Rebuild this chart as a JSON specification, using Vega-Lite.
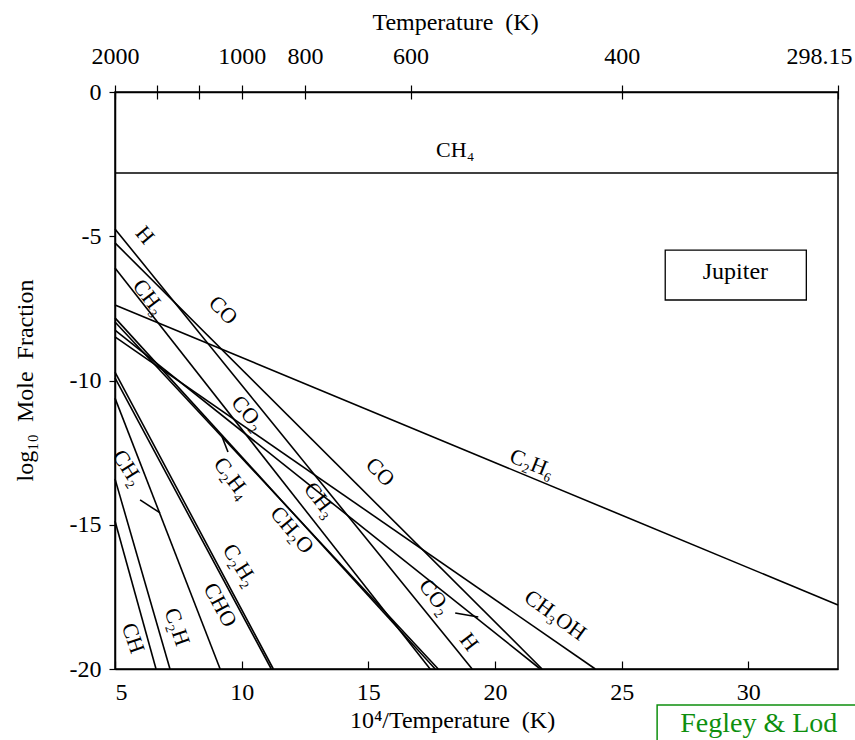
{
  "$schema": "https://vega.github.io/schema/vega-lite/v6.json",
  "width": 723,
  "height": 577,
  "autosize": {"type": "none"},
  "padding": {"left": 115, "top": 92, "right": 17, "bottom": 71},
  "background": "white",
  "config": {
    "view": {"stroke": "black", "strokeWidth": 1.5},
    "font": "Liberation Serif",
    "axis": {
      "grid": false,
      "domainColor": "black",
      "domainWidth": 1.5,
      "tickColor": "black",
      "tickWidth": 1.2,
      "labelColor": "black",
      "titleColor": "black",
      "labelFont": "Liberation Serif",
      "titleFont": "Liberation Serif",
      "labelFontSize": 24,
      "titleFontSize": 24,
      "titleFontWeight": "normal"
    },
    "text": {"font": "Liberation Serif", "fontSize": 22, "color": "black"}
  },
  "resolve": {"axis": {"x": "independent", "y": "independent"}},
  "layer": [
    {
      "data": {"values": [
        {"s": "CH4", "x": 5, "y": -2.81}, {"s": "CH4", "x": 33.5403, "y": -2.81},
        {"s": "H", "x": 5, "y": -4.75}, {"s": "H", "x": 19.10, "y": -20},
        {"s": "CO", "x": 5, "y": -5.23}, {"s": "CO", "x": 21.86, "y": -20},
        {"s": "CH3", "x": 5, "y": -6.10}, {"s": "CH3", "x": 17.44, "y": -20},
        {"s": "C2H6", "x": 5, "y": -7.38}, {"s": "C2H6", "x": 33.5403, "y": -17.78},
        {"s": "C2H4", "x": 5, "y": -7.83}, {"s": "C2H4", "x": 17.64, "y": -20},
        {"s": "CH2O", "x": 5, "y": -7.97}, {"s": "CH2O", "x": 17.76, "y": -20},
        {"s": "CO2", "x": 5, "y": -8.25}, {"s": "CO2", "x": 21.79, "y": -20},
        {"s": "CH3OH", "x": 5, "y": -8.49}, {"s": "CH3OH", "x": 23.96, "y": -20},
        {"s": "C2H2", "x": 5, "y": -9.71}, {"s": "C2H2", "x": 11.25, "y": -20},
        {"s": "CHO", "x": 5, "y": -9.91}, {"s": "CHO", "x": 11.17, "y": -20},
        {"s": "CH2", "x": 5, "y": -10.61}, {"s": "CH2", "x": 9.15, "y": -20},
        {"s": "C2H", "x": 5, "y": -13.41}, {"s": "C2H", "x": 7.17, "y": -20},
        {"s": "CH", "x": 5, "y": -14.87}, {"s": "CH", "x": 6.62, "y": -20},
        {"s": "L1", "x": 5.99, "y": -14.14}, {"s": "L1", "x": 6.78, "y": -14.59},
        {"s": "L2", "x": 9.23, "y": -11.96}, {"s": "L2", "x": 9.46, "y": -12.48},
        {"s": "L3", "x": 18.43, "y": -18.06}, {"s": "L3", "x": 19.34, "y": -18.20}
      ]},
      "mark": {"type": "line", "color": "black", "strokeWidth": 1.6},
      "encoding": {
        "x": {
          "field": "x", "type": "quantitative",
          "scale": {"domain": [5, 33.5403], "nice": false, "zero": false},
          "axis": {
            "orient": "bottom", "values": [5, 10, 15, 20, 25, 30],
            "tickSize": -8, "labelPadding": 19,
            "title": "10⁴/Temperature\u00a0\u00a0(K)",
            "titleX": 337, "titleY": 51, "titleBaseline": "middle"
          }
        },
        "y": {
          "field": "y", "type": "quantitative",
          "scale": {"domain": [-20, 0], "nice": false, "zero": false},
          "axis": {
            "orient": "left",
            "values": [0, -5, -10, -15, -20],
            "labelExpr": "datum.value == 0 ? '0' : '-' + abs(datum.value)",
            "tickSize": 6, "labelPadding": 8,
            "title": "log₁₀\u00a0\u00a0Mole\u00a0\u00a0Fraction",
            "titleX": -90, "titleY": 288, "titleBaseline": "middle"
          }
        },
        "detail": {"field": "s"}
      }
    },
    {
      "data": {"values": [{"x1": 26.72, "x2": 32.29, "y1": -5.48, "y2": -7.21}]},
      "mark": {"type": "rect", "fill": "white", "stroke": "black", "strokeWidth": 1.3},
      "encoding": {
        "x": {
          "field": "x1", "type": "quantitative",
          "axis": {
            "orient": "top",
            "values": [5, 6.6667, 8.3333, 10, 12.5, 16.6667, 25, 33.5403],
            "labelExpr": "datum.value > 33 ? '298.15' : (abs(datum.value - 6.6667) < 0.01 || abs(datum.value - 8.3333) < 0.01) ? '' : format(round(10000 / datum.value), 'd')",
            "tickSize": 7, "labelPadding": 17,
            "labelAlign": {"condition": {"test": "datum.value > 33", "value": "right"}, "value": "center"},
            "labelOffset": {"condition": {"test": "datum.value > 33", "value": 14}, "value": 0},
            "title": "Temperature\u00a0\u00a0(K)",
            "titleX": 340, "titleY": -70, "titleBaseline": "middle"
          }
        },
        "x2": {"field": "x2"},
        "y": {"field": "y1", "type": "quantitative", "axis": null},
        "y2": {"field": "y2"}
      }
    },
    {
      "data": {"values": [{"t": "Jupiter", "x": 29.49, "y": -6.24}]},
      "mark": {"type": "text", "fontSize": 24},
      "encoding": {
        "x": {
          "field": "x", "type": "quantitative",
          "axis": {
            "orient": "top",
            "values": [5, 6.6667, 8.3333, 10, 12.5, 16.6667, 25, 33.5403],
            "tickSize": -7, "labels": false, "domain": false, "title": null
          }
        },
        "y": {"field": "y", "type": "quantitative", "axis": null},
        "text": {"field": "t"}
      }
    },
    {
      "data": {"values": [{"t": "CH₄", "x": 18.43, "y": -2.01}]},
      "mark": {"type": "text", "angle": 0},
      "encoding": {
        "x": {"field": "x", "type": "quantitative", "axis": null},
        "y": {"field": "y", "type": "quantitative", "axis": null},
        "text": {"field": "t"}
      }
    },
    {
      "data": {"values": [{"t": "C₂H₆", "x": 21.47, "y": -12.88}]},
      "mark": {"type": "text", "angle": 22},
      "encoding": {
        "x": {"field": "x", "type": "quantitative", "axis": null},
        "y": {"field": "y", "type": "quantitative", "axis": null},
        "text": {"field": "t"}
      }
    },
    {
      "data": {"values": [{"t": "CH₃OH", "x": 22.38, "y": -18.13}]},
      "mark": {"type": "text", "angle": 36},
      "encoding": {
        "x": {"field": "x", "type": "quantitative", "axis": null},
        "y": {"field": "y", "type": "quantitative", "axis": null},
        "text": {"field": "t"}
      }
    },
    {
      "data": {"values": [{"t": "CO", "x": 9.27, "y": -7.56}, {"t": "CO", "x": 15.47, "y": -13.17}]},
      "mark": {"type": "text", "angle": 45},
      "encoding": {
        "x": {"field": "x", "type": "quantitative", "axis": null},
        "y": {"field": "y", "type": "quantitative", "axis": null},
        "text": {"field": "t"}
      }
    },
    {
      "data": {"values": [{"t": "H", "x": 6.18, "y": -4.96}, {"t": "CO₂", "x": 10.25, "y": -11.13}, {"t": "CH₂O", "x": 11.99, "y": -15.18}]},
      "mark": {"type": "text", "angle": 50},
      "encoding": {
        "x": {"field": "x", "type": "quantitative", "axis": null},
        "y": {"field": "y", "type": "quantitative", "axis": null},
        "text": {"field": "t"}
      }
    },
    {
      "data": {"values": [
        {"t": "CH₃", "x": 6.34, "y": -7.11}, {"t": "CH₃", "x": 13.10, "y": -14.14},
        {"t": "CO₂", "x": 17.64, "y": -17.50}, {"t": "H", "x": 18.98, "y": -19.06},
        {"t": "C₂H₄", "x": 9.62, "y": -13.38}
      ]},
      "mark": {"type": "text", "angle": 53},
      "encoding": {
        "x": {"field": "x", "type": "quantitative", "axis": null},
        "y": {"field": "y", "type": "quantitative", "axis": null},
        "text": {"field": "t"}
      }
    },
    {
      "data": {"values": [{"t": "CH₂", "x": 5.51, "y": -13.03}, {"t": "C₂H₂", "x": 9.94, "y": -16.40}]},
      "mark": {"type": "text", "angle": 58},
      "encoding": {
        "x": {"field": "x", "type": "quantitative", "axis": null},
        "y": {"field": "y", "type": "quantitative", "axis": null},
        "text": {"field": "t"}
      }
    },
    {
      "data": {"values": [{"t": "CHO", "x": 9.15, "y": -17.78}]},
      "mark": {"type": "text", "angle": 62},
      "encoding": {
        "x": {"field": "x", "type": "quantitative", "axis": null},
        "y": {"field": "y", "type": "quantitative", "axis": null},
        "text": {"field": "t"}
      }
    },
    {
      "data": {"values": [{"t": "C₂H", "x": 7.45, "y": -18.54}, {"t": "CH", "x": 5.71, "y": -18.93}]},
      "mark": {"type": "text", "angle": 71},
      "encoding": {
        "x": {"field": "x", "type": "quantitative", "axis": null},
        "y": {"field": "y", "type": "quantitative", "axis": null},
        "text": {"field": "t"}
      }
    },
    {
      "data": {"values": [{"x1": 26.4, "x2": 36, "y1": -21.25, "y2": -23}]},
      "mark": {"type": "rect", "fill": null, "stroke": "#0e8f0e", "strokeWidth": 1.5},
      "encoding": {
        "x": {"field": "x1", "type": "quantitative", "axis": null},
        "x2": {"field": "x2"},
        "y": {"field": "y1", "type": "quantitative", "axis": null},
        "y2": {"field": "y2"}
      }
    },
    {
      "data": {"values": [{"t": "Fegley & Lod", "x": 27.31, "y": -22.18}]},
      "mark": {"type": "text", "align": "left", "baseline": "alphabetic", "fontSize": 28, "color": "#0e8f0e"},
      "encoding": {
        "x": {"field": "x", "type": "quantitative", "axis": null},
        "y": {"field": "y", "type": "quantitative", "axis": null},
        "text": {"field": "t"}
      }
    }
  ]
}
